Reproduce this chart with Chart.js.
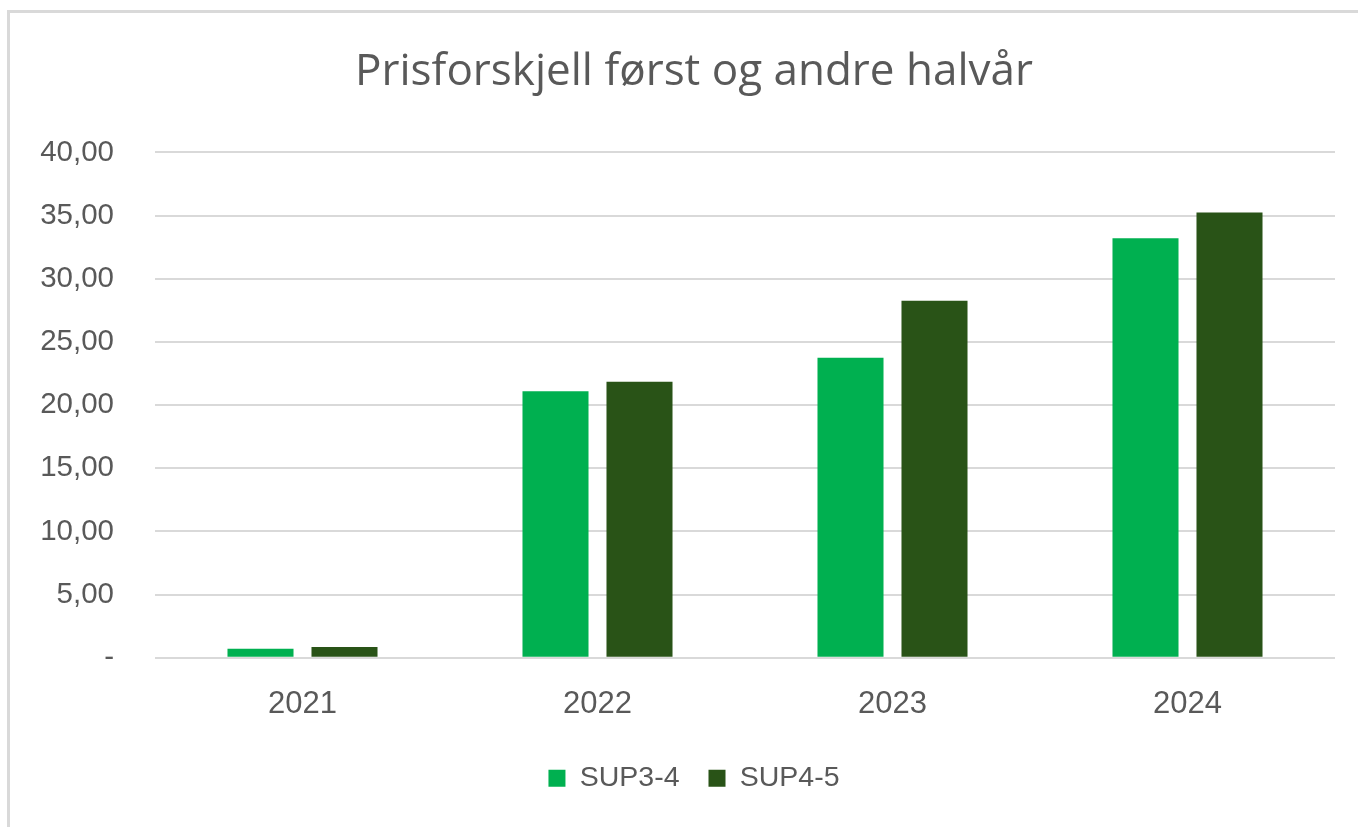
<!DOCTYPE html>
<html>
<head>
<meta charset="utf-8">
<script src="https://cdn.jsdelivr.net/npm/chart.js@4"></script>
<style>
  html, body { margin: 0; padding: 0; background: #ffffff; overflow: hidden; }
  #frame { position: absolute; left: 7px; top: 10px; width: 1400px; height: 900px;
           border-left: 3px solid #d9d9d9; border-top: 3px solid #d9d9d9; box-sizing: border-box; }
  #wrap { position: absolute; left: 0; top: 0; width: 1358px; height: 827px; }
</style>
</head>
<body>
<div id="frame"></div>
<div id="wrap"><canvas id="c" width="1358" height="827"></canvas></div>
<script>
const categories = ['2021', '2022', '2023', '2024'];
const seriesNames = ['SUP3-4', 'SUP4-5'];
const sup34 = [0.70, 21.10, 23.75, 33.20];
const sup45 = [0.85, 21.85, 28.25, 35.25];
const yTicks = [0, 5, 10, 15, 20, 25, 30, 35, 40];
const titleText = 'Prisforskjell først og andre halvår';

const textColor = '#595959';
const sans = '"Liberation Sans", Arial, sans-serif';

new Chart(document.getElementById('c'), {
  type: 'bar',
  data: {
    labels: categories,
    datasets: [
      { label: seriesNames[0], data: sup34, backgroundColor: '#00B050', borderWidth: 0, yAxisID: 'y' },
      { label: seriesNames[1], data: sup45, backgroundColor: '#295317', borderWidth: 0, yAxisID: 'y' }
    ]
  },
  options: {
    responsive: false,
    animation: false,
    events: [],
    categoryPercentage: 0.5695,
    barPercentage: 0.786,
    layout: { padding: { left: 30, right: 0, top: 10, bottom: 24.5 } },
    plugins: {
      title: {
        display: true,
        text: titleText,
        color: textColor,
        font: { family: '"Open Sans", Lato, sans-serif', size: 44, weight: 'normal' },
        padding: { top: 36, bottom: 53.6 }
      },
      legend: {
        position: 'bottom',
        labels: {
          color: textColor,
          font: { family: sans, size: 28.5 },
          boxWidth: 17,
          boxHeight: 17,
          padding: 29
        }
      },
      tooltip: { enabled: false }
    },
    scales: {
      x: {
        grid: { display: false, drawTicks: false },
        border: { display: false },
        ticks: { color: textColor, font: { family: sans, size: 31 }, padding: 28 },
        afterFit: (s) => { s.height = 77.3; }
      },
      y: {
        min: 0,
        max: 40,
        afterBuildTicks: (s) => { s.ticks = yTicks.map(v => ({ value: v })); },
        grid: { color: '#d9d9d9', lineWidth: 2, drawTicks: false },
        border: { display: false },
        ticks: {
          color: textColor,
          font: { family: sans, size: 29.5 },
          padding: 41,
          callback: (v) => v === 0 ? '-' : v.toFixed(2).replace('.', ',')
        },
        afterFit: (s) => { s.width = 125; }
      },
      yRight: {
        position: 'right',
        display: true,
        grid: { display: false, drawTicks: false },
        border: { display: false },
        ticks: { display: false },
        afterFit: (s) => { s.width = 23; }
      }
    }
  }
});
</script>
</body>
</html>
